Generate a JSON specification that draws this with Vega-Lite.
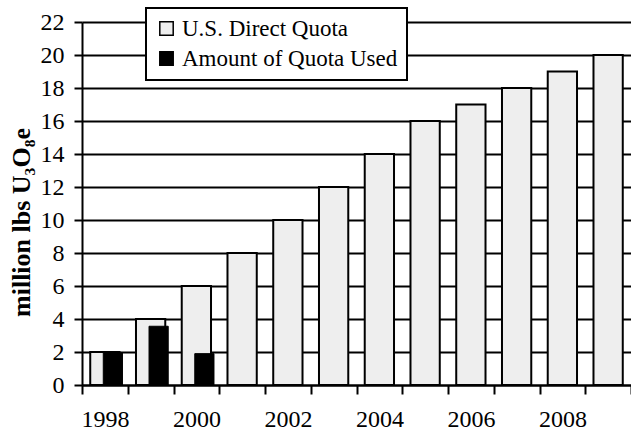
{
  "$schema": "https://vega.github.io/schema/vega-lite/v6.json",
  "width": 549,
  "height": 363,
  "autosize": "none",
  "padding": {"left": 82, "top": 22, "right": 0, "bottom": 49},
  "background": "white",
  "config": {
    "font": "Liberation Serif",
    "view": {"stroke": null},
    "axis": {"labelFont": "Liberation Serif", "labelColor": "black", "titleColor": "black", "domainColor": "black", "tickColor": "black", "domainWidth": 2, "tickWidth": 2}
  },
  "data": {
    "values": [
      {"year": "1998", "series": "U.S. Direct Quota", "value": 2},
      {"year": "1999", "series": "U.S. Direct Quota", "value": 4},
      {"year": "2000", "series": "U.S. Direct Quota", "value": 6},
      {"year": "2001", "series": "U.S. Direct Quota", "value": 8},
      {"year": "2002", "series": "U.S. Direct Quota", "value": 10},
      {"year": "2003", "series": "U.S. Direct Quota", "value": 12},
      {"year": "2004", "series": "U.S. Direct Quota", "value": 14},
      {"year": "2005", "series": "U.S. Direct Quota", "value": 16},
      {"year": "2006", "series": "U.S. Direct Quota", "value": 17},
      {"year": "2007", "series": "U.S. Direct Quota", "value": 18},
      {"year": "2008", "series": "U.S. Direct Quota", "value": 19},
      {"year": "2009", "series": "U.S. Direct Quota", "value": 20},
      {"year": "1998", "series": "Amount of Quota Used", "value": 1.97},
      {"year": "1999", "series": "Amount of Quota Used", "value": 3.56},
      {"year": "2000", "series": "Amount of Quota Used", "value": 1.9}
    ]
  },
  "encoding": {
    "x": {
      "field": "year", "type": "ordinal",
      "scale": {"paddingInner": 0, "paddingOuter": 0},
      "axis": {
        "title": null, "labelAngle": 0, "labelFontSize": 24, "tickBand": "extent",
        "tickSize": 9, "labelPadding": 13, "grid": false,
        "labelExpr": "toNumber(datum.value) % 2 == 0 ? datum.label : ''"
      }
    },
    "y": {
      "field": "value", "type": "quantitative",
      "scale": {"domain": [0, 22], "nice": false},
      "axis": {
        "title": "million lbs U₃O₈e", "titleFontSize": 26, "titleFontWeight": "bold", "titleFont": "Liberation Serif",
        "titlePadding": 6, "titleY": 200,
        "values": [0, 2, 4, 6, 8, 10, 12, 14, 16, 18, 20, 22],
        "labelFontSize": 24, "tickSize": 8, "labelPadding": 10,
        "grid": true, "gridColor": "black", "gridWidth": 2, "gridOpacity": 1
      }
    },
    "color": {
      "field": "series", "type": "nominal",
      "scale": {"domain": ["U.S. Direct Quota", "Amount of Quota Used"], "range": ["#eeeeee", "black"]},
      "legend": {
        "title": null, "orient": "none", "legendX": 64, "legendY": -14,
        "fillColor": "white", "strokeColor": "black", "padding": 9,
        "labelFontSize": 23, "labelFont": "Liberation Serif", "labelColor": "black", "labelLimit": 0,
        "symbolType": "square", "symbolSize": 180, "symbolStrokeColor": "black", "symbolStrokeWidth": 1.5,
        "labelOffset": 4, "rowPadding": 6, "symbolOpacity": 1,
        "encode": {"legend": {"update": {"strokeWidth": {"value": 2}}}}
      }
    }
  },
  "layer": [
    {
      "transform": [{"filter": "datum.series == 'U.S. Direct Quota'"}],
      "mark": {"type": "bar", "width": {"band": 0.64}, "stroke": "black", "strokeWidth": 2, "opacity": 1}
    },
    {
      "transform": [{"filter": "datum.series == 'Amount of Quota Used'"}],
      "mark": {"type": "bar", "width": {"band": 0.42}, "xOffset": 8, "stroke": "black", "strokeWidth": 1, "opacity": 1}
    }
  ]
}
